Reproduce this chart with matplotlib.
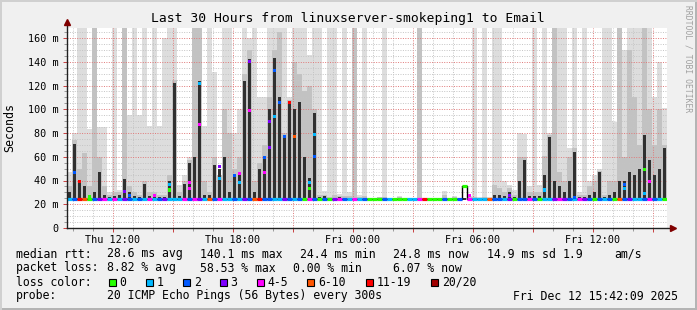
import matplotlib
matplotlib.use('Agg')
import matplotlib.pyplot as plt
import matplotlib.patches as patches
from matplotlib.ticker import MultipleLocator
import numpy as np

plt.rcParams['font.family'] = ['DejaVu Sans Mono', 'DejaVu Sans']

W, H = 697, 310

# 30 hours, 15-minute bins, graph starts Thu 09:42:09
BIN_HOURS = 0.25
START_HOUR = 9 + 42 / 60 + 9 / 3600
SMOKE_BASE = 24.0

# --- smoke bands (top of light / medium / dark gray, in ms) ---
smoke_hi = [
    47, 80, 170, 170, 83, 170, 85, 85, 30, 170, 32, 170, 95, 170, 95, 170, 86, 170, 86, 160,
    170, 170, 36, 45, 60, 170, 170, 86, 170, 131, 45, 170, 170, 80, 100, 170, 160, 170, 110, 110,
    170, 170, 170, 170, 110, 170, 170, 170, 146, 170, 170, 31, 170, 170, 29, 170, 30, 170, 28, 170,
    25, 25, 26.5, 170, 25, 25, 27, 25, 25, 25, 170, 25, 25, 25, 25, 31, 25, 27, 25, 25,
    27, 170, 26, 170, 26, 170, 170, 40, 36, 32, 80, 79, 35, 170, 36, 170, 80, 170, 170, 170,
    67, 170, 30, 170, 40, 45, 50, 170, 170, 89, 170, 150, 170, 170, 170, 170, 170, 110, 140, 101,
]
smoke_mid = [
    35, 74, 50, 63, 35, 170, 60, 35, 28, 30, 30, 170, 35, 30, 28, 40, 30, 30, 28, 28,
    45, 125, 30, 40, 57, 170, 170, 40, 30, 60, 45, 100, 80, 50, 60, 130, 150, 40, 55, 70,
    110, 150, 165, 80, 108, 140, 130, 115, 120, 100, 28, 28, 26, 28, 27, 27, 27, 170, 26, 27,
    25, 25, 26, 26, 25, 25, 26, 25, 25, 25, 170, 25, 25, 25, 25, 28, 25, 26, 25, 25,
    26, 26, 25.5, 26, 25.5, 36, 34, 30, 34, 28, 60, 60, 30, 30, 30, 61, 78, 170, 47, 40,
    60, 67, 28, 28, 35, 40, 48, 28, 40, 40, 170, 60, 150, 110, 70, 170, 100, 70, 100, 70,
]
smoke_dark = [
    30, 71, 40, 35, 28, 30, 47, 28, 26, 27, 28, 41, 30, 27, 26, 37, 27, 26, 26, 26,
    40, 122, 27, 37, 55, 60, 124, 28, 28, 53, 50, 60, 30, 45, 46, 124, 142, 30, 50, 60,
    100, 143, 110, 76, 106, 100, 106, 60, 42, 97, 26, 27, 25, 25, 26, 25, 25, 25, 25, 25,
    25, 25, 25, 25, 25, 25, 25, 25, 25, 25, 25, 25, 25, 25, 25, 25, 25, 25, 25, 25,
    25, 25, 25, 25, 25, 28, 28, 27, 30, 26, 40, 57, 27, 27, 27, 45, 77, 40, 35, 30,
    40, 64, 26, 26, 28, 30, 47, 26, 28, 30, 40, 40, 47, 45, 50, 78, 57, 45, 50, 67,
]

# --- median rtt per bin (ms) and loss class per bin ---
median_ms = [
    24.5, 24.5, 24.5, 24.5, 24.5, 24.5, 24.5, 24.5, 24.5, 24.5, 24.5, 24.5, 24.5, 24.5, 24.5, 24.5, 24.5, 24.5, 24.5, 24.5,
    24.5, 24.5, 24.5, 24.5, 24.5, 24.5, 24.5, 24.5, 24.5, 24.5, 24.5, 24.5, 24.5, 24.5, 24.5, 24.5, 24.5, 24.5, 24.5, 24.5,
    24.5, 24.5, 24.5, 24.5, 24.5, 24.5, 24.5, 24.5, 24.5, 24.5, 24.5, 24.5, 24.5, 24.5, 24.5, 24.5, 24.5, 24.5, 24.5, 24.5,
    24.5, 24.5, 24.5, 24.5, 24.5, 24.5, 24.5, 24.5, 24.5, 24.5, 24.5, 24.5, 24.5, 24.5, 24.5, 24.5, 24.5, 24.5, 24.5, 35.5,
    24.5, 24.5, 24.5, 24.5, 24.5, 24.5, 24.5, 24.5, 24.5, 24.5, 24.5, 24.5, 24.5, 24.5, 24.5, 24.5, 24.5, 24.5, 24.5, 24.5,
    24.5, 24.5, 24.5, 24.5, 24.5, 24.5, 24.5, 24.5, 24.5, 24.5, 24.5, 24.5, 24.5, 24.5, 24.5, 24.5, 24.5, 24.5, 24.5, 24.5,
]
loss_idx = [
    1, 2, 6, 5, 0, 2, 3, 4, 1, 4, 1, 3, 2, 1, 2, 1, 4, 1, 2, 3,
    1, 1, 1, 4, 2, 4, 3, 1, 5, 2, 4, 1, 1, 2, 1, 3, 2, 5, 6, 2,
    2, 1, 1, 3, 2, 1, 2, 0, 4, 2, 0, 2, 0, 3, 4, 2, 1, 4, 1, 2,
    0, 0, 0, 2, 1, 0, 0, 0, 1, 1, 4, 6, 0, 0, 0, 2, 0, 0, 2, 0,
    4, 1, 1, 1, 5, 2, 2, 1, 3, 0, 2, 2, 4, 2, 0, 1, 1, 3, 4, 3,
    2, 1, 4, 3, 2, 0, 2, 1, 2, 0, 5, 2, 3, 1, 1, 2, 4, 2, 1, 0,
]

# elevated median samples inside a bin
peak_bin = [1, 2, 4, 11, 12, 17, 20, 20, 24, 24, 26, 26, 30, 30, 33, 34, 34, 36, 36, 39, 39,
            40, 40, 41, 41, 42, 43, 44, 45, 48, 48, 49, 49,
            80, 88, 95, 101, 111, 111, 115, 115, 116]
peak_ms = [46.5, 39, 26.5, 30.5, 27, 27, 37, 32, 38, 33, 122, 87.5, 51.5, 42, 44.5, 38, 46, 140, 99, 59, 47,
           90, 68, 132.5, 94, 105.5, 77, 105.5, 77, 38, 33.5, 79, 60,
           27, 27, 32, 26, 37, 33, 49.5, 29, 39]
peak_loss = [2, 6, 0, 3, 2, 4, 1, 0, 4, 4, 1, 4, 3, 1, 2, 1, 4, 3, 4, 2, 4,
             3, 3, 2, 1, 2, 2, 6, 5, 1, 0, 1, 2,
             4, 3, 1, 2, 2, 1, 0, 1, 4]

loss_colors = ['#26ff00', '#00b8ff', '#0059ff', '#7e00ff', '#ff00ff', '#ff5500', '#ff0000', '#a10000']
loss_labels = ['0', '1', '2', '3', '4-5', '6-10', '11-19', '20/20']

ytick_vals = [0, 20, 40, 60, 80, 100, 120, 140, 160]
ytick_labels = ['0', '20 m', '40 m', '60 m', '80 m', '100 m', '120 m', '140 m', '160 m']
xtick_hours = [12, 15, 18, 21, 24, 27, 30, 33, 36, 39]   # hours since Thu 00:00
xtick_labels = ['Thu 12:00', '', 'Thu 18:00', '', 'Fri 00:00', '', 'Fri 06:00', '', 'Fri 12:00', '']


def fx(px):
    return px / W


def fy(py):
    return 1 - py / H


fig = plt.figure(figsize=(W / 100, H / 100), dpi=100, facecolor='#f0f0f0')
ax = fig.add_axes([fx(67), fy(228), 600 / W, 200 / H], facecolor='white')

n = len(smoke_hi)
left = np.arange(n) * BIN_HOURS
hi = np.array(smoke_hi, dtype=float)
mid = np.array(smoke_mid, dtype=float)
dark = np.array(smoke_dark, dtype=float)

# smoke: light/medium bands under the grid, dark core above it
ax.bar(left, hi - SMOKE_BASE, width=BIN_HOURS, bottom=SMOKE_BASE, align='edge',
       color='#dddddd', linewidth=0, antialiased=False, zorder=1)
ax.bar(left, mid - SMOKE_BASE, width=BIN_HOURS, bottom=SMOKE_BASE, align='edge',
       color='#c2c2c2', linewidth=0, antialiased=False, zorder=1.1)
ax.bar(left + BIN_HOURS * 0.2, dark - SMOKE_BASE, width=BIN_HOURS * 0.6, bottom=SMOKE_BASE,
       align='edge', color='#303030', linewidth=0, antialiased=False, zorder=3)

# median line coloured by loss
edges = np.arange(n + 1) * BIN_HOURS
ax.stairs(median_ms, edges, baseline=None, color='black', lw=1.0, zorder=4)
ax.hlines(median_ms, left, left + BIN_HOURS, colors=[loss_colors[i] for i in loss_idx],
          lw=2.3, zorder=5)
ax.scatter((np.array(peak_bin) + 0.5) * BIN_HOURS, peak_ms, s=5, marker='s',
           c=[loss_colors[i] for i in peak_loss], linewidths=0, zorder=6)

ax.set_xlim(0, 30)
ax.set_ylim(0, 200 / 1.1875)

ax.set_xticks([h - START_HOUR for h in xtick_hours])
ax.set_xticklabels(xtick_labels, fontsize=7.3)
ax.set_xticks([h - START_HOUR for h in range(10, 40)], minor=True)
ax.set_yticks(ytick_vals)
ax.set_yticklabels(ytick_labels, fontsize=7.3)
ax.yaxis.set_minor_locator(MultipleLocator(5))

ax.set_axisbelow(False)
ax.grid(which='major', color='#e07878', linestyle=(0, (1, 1.5)), linewidth=0.7)
ax.grid(which='minor', color='#c4c4c4', linestyle=(0, (1, 1.5)), linewidth=0.7)
ax.tick_params(which='major', length=3, color='#c84040', width=0.7, pad=2)
ax.tick_params(which='minor', length=2, color='#999999', width=0.7)
ax.tick_params(axis='y', pad=3)
for s in ax.spines.values():
    s.set_visible(False)

# axes with arrows
ax.plot([0, 1.008], [0, 0], transform=ax.transAxes, color='#202020', lw=1, clip_on=False, zorder=7)
ax.plot([0, 0], [0, 1.03], transform=ax.transAxes, color='#202020', lw=1, clip_on=False, zorder=7)
ax.plot([1.01], [0], marker='>', ms=5, color='#800000', transform=ax.transAxes, clip_on=False, zorder=8)
ax.plot([0], [1.03], marker='^', ms=5, color='#800000', transform=ax.transAxes, clip_on=False, zorder=8)

# titles
fig.text(fx(348), fy(18.5), 'Last 30 Hours from linuxserver-smokeping1 to Email',
         ha='center', va='center', fontsize=9.4)
fig.text(fx(10), fy(127), 'Seconds', rotation=90, ha='center', va='center', fontsize=8.4)
fig.text(fx(688), fy(5), 'RRDTOOL / TOBI OETIKER', rotation=270, ha='center', va='top',
         fontsize=5.8, color='#a0a0a0')

# legend
fs = 8.3
rows = {
    254: [(16, 'median rtt:'), (107, '28.6 ms avg'), (200, '140.1 ms max'), (300, '24.4 ms min'),
          (393, '24.8 ms now'), (487, '14.9 ms sd'), (563, '1.9'), (614, 'am/s')],
    268: [(16, 'packet loss:'), (107, '8.82 % avg'), (200, '58.53 % max'), (293, '0.00 % min'),
          (393, '6.07 % now')],
    282: [(16, 'loss color:')],
    296: [(16, 'probe:'), (107, '20 ICMP Echo Pings (56 Bytes) every 300s'),
          (513, 'Fri Dec 12 15:42:09 2025')],
}
for y, items in rows.items():
    for x, s in items:
        fig.text(fx(x), fy(y), s, ha='left', va='center', fontsize=fs)

box_x = [108.5, 146, 183, 219.5, 256.5, 307, 365.5, 431]
for bx, col, lab in zip(box_x, loss_colors, loss_labels):
    fig.patches.append(patches.Rectangle((fx(bx), fy(285.5)), 7 / W, 7 / H,
                                         transform=fig.transFigure, facecolor=col,
                                         edgecolor='black', lw=0.8))
    fig.text(fx(bx + 11), fy(282), lab, ha='left', va='center', fontsize=fs)

# shaded frame
fig.patches.append(patches.Rectangle((0, 0), 1, 2 / H, transform=fig.transFigure,
                                     facecolor='#b4b4b4', lw=0))
fig.patches.append(patches.Rectangle((1 - 2 / W, 0), 2 / W, 1, transform=fig.transFigure,
                                     facecolor='#b4b4b4', lw=0))
fig.patches.append(patches.Rectangle((0, 1 - 2 / H), 1, 2 / H, transform=fig.transFigure,
                                     facecolor='#d0d0d0', lw=0))
fig.patches.append(patches.Rectangle((0, 0), 2 / W, 1, transform=fig.transFigure,
                                     facecolor='#d0d0d0', lw=0))

fig.savefig('out.png', dpi=100, facecolor=fig.get_facecolor())
